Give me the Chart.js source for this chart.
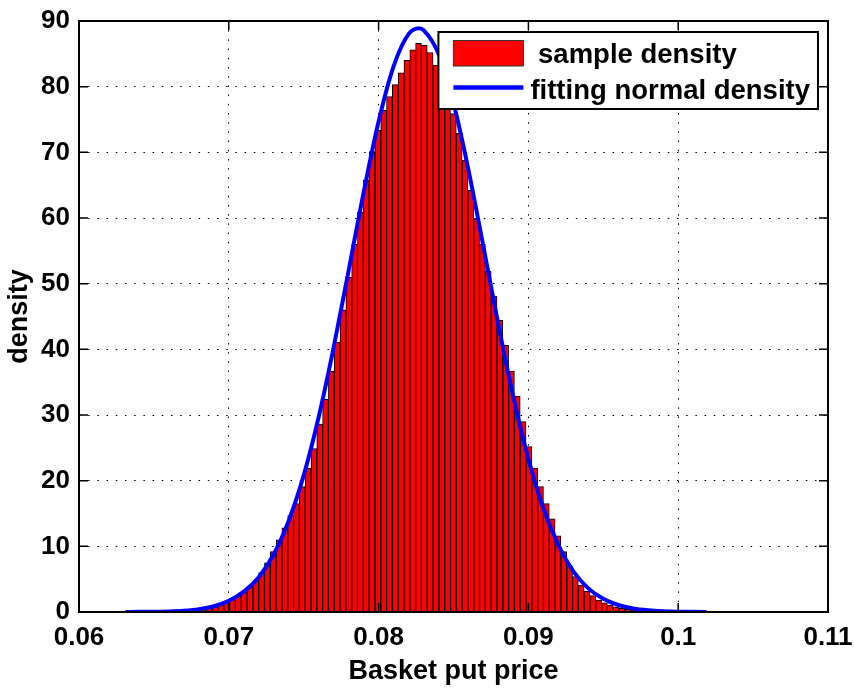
<!DOCTYPE html>
<html>
<head>
<meta charset="utf-8">
<title>Basket put price density</title>
<script src="https://cdn.jsdelivr.net/npm/chart.js@4.4.1/dist/chart.umd.min.js"></script>
<style>
  html, body { margin: 0; padding: 0; background: #fff; }
  #densityChart { display: block; }
</style>
</head>
<body>
<canvas id="densityChart" width="854" height="688"></canvas>
<script>
// histogram bin centres (basket put price)
const binCenters = [
  0.066368, 0.066756, 0.067144, 0.067532, 0.067920, 0.068308, 0.068696, 0.069084,
  0.069472, 0.069860, 0.070248, 0.070636, 0.071024, 0.071412, 0.071800, 0.072188,
  0.072576, 0.072964, 0.073352, 0.073740, 0.074128, 0.074516, 0.074904, 0.075292,
  0.075680, 0.076068, 0.076456, 0.076844, 0.077232, 0.077620, 0.078008, 0.078396,
  0.078784, 0.079172, 0.079560, 0.079948, 0.080336, 0.080724, 0.081112, 0.081500,
  0.081888, 0.082276, 0.082664, 0.083052, 0.083440, 0.083828, 0.084216, 0.084604,
  0.084992, 0.085380, 0.085768, 0.086156, 0.086544, 0.086932, 0.087320, 0.087708,
  0.088096, 0.088484, 0.088872, 0.089260, 0.089648, 0.090036, 0.090424, 0.090812,
  0.091200, 0.091588, 0.091976, 0.092364, 0.092752, 0.093140, 0.093528, 0.093916,
  0.094304, 0.094692, 0.095080, 0.095468, 0.095856, 0.096244, 0.096632, 0.097020,
  0.097408, 0.097796, 0.098184, 0.098572, 0.098960, 0.099348
];

// sample density per bin
const sampleDensity = [
  0.05, 0.08, 0.12, 0.18, 0.28, 0.42, 0.6, 0.85,
  1.15, 1.5, 1.9, 2.4, 3.1, 3.9, 4.8, 6.0,
  7.5, 9.2, 11.0, 12.8, 14.7, 16.5, 19.1, 21.9,
  24.9, 28.6, 32.4, 36.7, 41.1, 46.0, 51.0, 56.0,
  60.9, 65.8, 70.1, 73.4, 76.4, 78.5, 80.3, 82.1,
  84.0, 85.6, 86.6, 86.3, 85.2, 83.3, 81.3, 78.8,
  75.9, 72.9, 68.8, 64.2, 59.9, 56.0, 51.9, 48.1,
  44.4, 40.6, 36.7, 32.9, 29.0, 25.2, 21.9, 19.1,
  16.5, 14.2, 11.6, 9.2, 7.0, 5.4, 4.1, 3.2,
  2.5, 1.8, 1.4, 1.07, 0.8, 0.56, 0.41, 0.27,
  0.2, 0.13, 0.09, 0.06, 0.04, 0.02
];

// fitted normal density
const fitX = [
  0.0631, 0.064, 0.065, 0.066, 0.067, 0.068, 0.069, 0.070, 0.071, 0.072,
  0.073, 0.074, 0.075, 0.076, 0.077, 0.078, 0.079, 0.080, 0.081, 0.082,
  0.0827, 0.083, 0.084, 0.085, 0.086, 0.087, 0.088, 0.089, 0.090, 0.091,
  0.092, 0.093, 0.094, 0.095, 0.096, 0.097, 0.098, 0.099, 0.100, 0.101, 0.1019
];
const fitY = [
  0.01, 0.02, 0.04, 0.09, 0.2, 0.43, 0.88, 1.7, 3.1, 5.3,
  8.8, 13.9, 20.8, 29.7, 40.3, 52.0, 63.9, 74.7, 83.1, 88.0,
  88.9, 88.6, 85.0, 77.5, 67.3, 55.6, 43.7, 32.7, 23.3, 15.8,
  10.2, 6.2, 3.6, 2.0, 1.07, 0.54, 0.26, 0.12, 0.05, 0.02, 0.01
];

const xTicks = [0.06, 0.07, 0.08, 0.09, 0.1, 0.11];
const xTickLabels = ['0.06', '0.07', '0.08', '0.09', '0.1', '0.11'];
const yTicks = [0, 10, 20, 30, 40, 50, 60, 70, 80, 90];

const FONT = '"Liberation Sans", Arial, Helvetica, sans-serif';
Chart.defaults.font.family = FONT;
Chart.defaults.font.weight = 'bold';
Chart.defaults.font.size = 26;
Chart.defaults.color = '#000';

// box around the axes with inward ticks on all four sides
const axesBox = {
  id: 'axesBox',
  afterDatasetsDraw(chart) {
    const { ctx, chartArea: a, scales: { x, y } } = chart;
    const len = 9;
    ctx.save();
    ctx.strokeStyle = '#000';
    ctx.lineWidth = 1.5;
    ctx.beginPath();
    x.ticks.forEach(t => {
      const px = x.getPixelForValue(t.value);
      ctx.moveTo(px, a.bottom); ctx.lineTo(px, a.bottom - len);
      ctx.moveTo(px, a.top); ctx.lineTo(px, a.top + len);
    });
    y.ticks.forEach(t => {
      const py = y.getPixelForValue(t.value);
      ctx.moveTo(a.left, py); ctx.lineTo(a.left + len, py);
      ctx.moveTo(a.right, py); ctx.lineTo(a.right - len, py);
    });
    ctx.stroke();
    ctx.lineWidth = 2;
    ctx.strokeRect(a.left, a.top, a.right - a.left, a.bottom - a.top);
    ctx.restore();
  }
};

// boxed legend in the upper right corner
const boxLegend = {
  id: 'boxLegend',
  afterDraw(chart) {
    const { ctx, chartArea: a } = chart;
    const [bars, fit] = chart.data.datasets;
    ctx.save();
    ctx.font = 'bold 27.5px ' + FONT;
    const textW = Math.max(ctx.measureText(bars.label).width, ctx.measureText(fit.label).width);
    const w = 92 + textW + 8;
    const h = 77;
    const left = a.right - 10 - w;
    const top = a.top + 11;
    ctx.fillStyle = '#fff';
    ctx.fillRect(left, top, w, h);
    ctx.strokeStyle = '#000';
    ctx.lineWidth = 2;
    ctx.strokeRect(left, top, w, h);

    ctx.fillStyle = bars.backgroundColor;
    ctx.fillRect(left + 15, top + 8.5, 70, 25.5);
    ctx.lineWidth = 1;
    ctx.strokeStyle = '#333';
    ctx.strokeRect(left + 15, top + 8.5, 70, 25.5);

    ctx.strokeStyle = fit.borderColor;
    ctx.lineWidth = 4.5;
    ctx.beginPath();
    ctx.moveTo(left + 15, top + 55.6);
    ctx.lineTo(left + 85, top + 55.6);
    ctx.stroke();

    ctx.fillStyle = '#000';
    ctx.textBaseline = 'alphabetic';
    ctx.fillText(bars.label, left + 92, top + 31);
    ctx.fillText(fit.label, left + 92, top + 66.6);
    ctx.restore();
  }
};

const config = {
  type: 'bar',
  data: {
    datasets: [
      {
        label: ' sample density',
        data: binCenters.map((c, i) => ({ x: c, y: sampleDensity[i] })),
        backgroundColor: '#ff0000',
        borderColor: '#000',
        borderWidth: 1,
        barPercentage: 1,
        categoryPercentage: 1,
        order: 2
      },
      {
        type: 'line',
        label: 'fitting normal density',
        data: fitX.map((v, i) => ({ x: v, y: fitY[i] })),
        borderColor: '#0000ff',
        borderWidth: 4,
        pointRadius: 0,
        fill: false,
        cubicInterpolationMode: 'monotone',
        order: 1
      }
    ]
  },
  options: {
    responsive: false,
    animation: false,
    devicePixelRatio: 1,
    layout: { autoPadding: false, padding: { left: 0, right: 26, top: 21, bottom: 0 } },
    plugins: {
      legend: { display: false },
      tooltip: { enabled: false }
    },
    scales: {
      x: {
        type: 'linear',
        min: 0.06,
        max: 0.11,
        offset: false,
        afterBuildTicks: scale => { scale.ticks = xTicks.map(v => ({ value: v })); },
        afterFit: scale => {
          scale.height = 76;
          scale.paddingLeft = 0;
          scale.paddingRight = 0;
        },
        ticks: {
          padding: 10,
          maxRotation: 0,
          autoSkip: false,
          callback: (value, index) => xTickLabels[index]
        },
        grid: { offset: false, drawTicks: false, color: '#000', lineWidth: 1 },
        border: { display: false, dash: [1.5, 7.7] },
        title: { display: true, text: 'Basket put price', font: { size: 27 }, padding: { top: 0, bottom: 0 } }
      },
      y: {
        min: 0,
        max: 90,
        afterBuildTicks: scale => { scale.ticks = yTicks.map(v => ({ value: v })); },
        afterFit: scale => {
          scale.width = 79;
          scale.paddingTop = 0;
          scale.paddingBottom = 0;
        },
        ticks: { padding: 9 },
        grid: { drawTicks: false, color: '#000', lineWidth: 1 },
        border: { display: false, dash: [1.5, 7.7] },
        title: { display: true, text: 'density', font: { size: 27 }, padding: { top: 3, bottom: 0 } }
      }
    }
  },
  plugins: [axesBox, boxLegend]
};

const ctx = document.getElementById('densityChart').getContext('2d');
const densityChart = new Chart(ctx, config);
</script>
</body>
</html>
